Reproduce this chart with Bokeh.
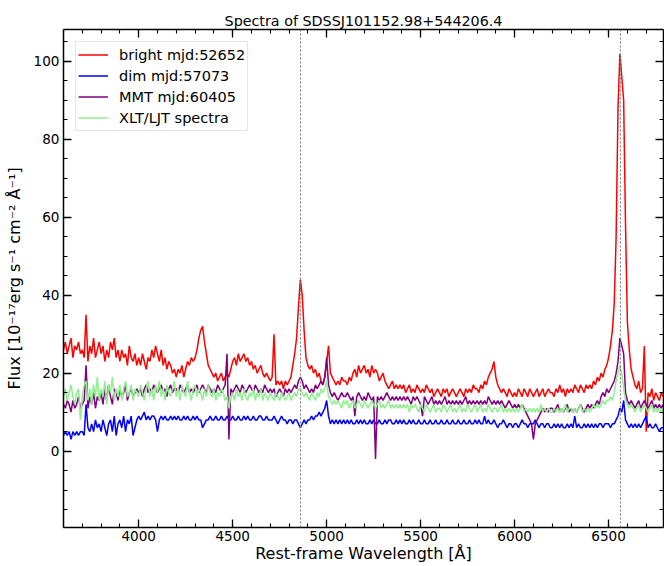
from bokeh.plotting import figure
from bokeh.models import (Range1d, LinearAxis, SingleIntervalTicker, Span, Legend, LegendItem,
                          CustomLabelingPolicy)
from bokeh.embed import file_html
from bokeh.resources import INLINE

# ---------------- data ----------------
title_text = "Spectra of SDSSJ101152.98+544206.4"
x_label = "Rest-frame Wavelength [Å]"
y_label = "Flux [10⁻¹⁷erg s⁻¹ cm⁻² Å⁻¹]"

# wavelength samples (Å), 3600 ... 6790 every 10 Å
wavelength = list(range(3600, 6800, 10))

series_labels = ["bright mjd:52652", "dim mjd:57073", "MMT mjd:60405", "XLT/LJT spectra"]
series_colors = ["#ff0000", "#0000ff", "#800080", "#90ee90"]

bright_flux = [
    26, 28, 25, 27, 29, 24, 27, 26, 28, 25,   # 3600
    26, 24, 35, 23, 27, 25, 29, 24, 26, 28,   # 3700
    25, 27, 23, 26, 24, 28, 26, 29, 24, 26,   # 3800
    23, 26, 24, 25, 22, 27, 24, 23, 25, 22,   # 3900
    24, 22, 25, 23, 21, 24, 23, 26, 24, 27,   # 4000
    25, 23, 26, 22, 24, 21, 23, 22, 20, 21,   # 4100
    19, 21, 20, 22, 19, 21, 23, 22, 24, 23,   # 4200
    24, 26, 29, 31, 32, 28, 25, 22, 21, 20,   # 4300
    19, 20, 18, 19, 20, 18, 19, 20, 19, 21,   # 4400
    23, 24, 22, 25, 23, 24, 25, 23, 24, 22,   # 4500
    23, 21, 22, 20, 21, 22, 20, 19, 20, 19,   # 4600
    18, 19, 30, 17, 18, 17, 18, 16, 18, 17,   # 4700
    18, 19, 22, 25, 29, 37, 44, 40, 31, 24,   # 4800
    22, 21, 22, 20, 21, 19, 20, 18, 17, 19,   # 4900
    23, 27, 20, 19, 18, 17, 18, 17, 19, 18,   # 5000
    18, 17, 19, 18, 20, 21, 19, 22, 20, 21,   # 5100
    22, 20, 21, 19, 22, 20, 21, 20, 18, 19,   # 5200
    20, 18, 17, 16, 17, 18, 16, 17, 16, 17,   # 5300
    16, 17, 15, 16, 17, 15, 16, 15, 17, 16,   # 5400
    15, 16, 15, 17, 16, 15, 16, 14, 15, 16,   # 5500
    15, 14, 16, 15, 16, 14, 15, 16, 15, 14,   # 5600
    15, 16, 15, 14, 16, 15, 16, 15, 17, 16,   # 5700
    16, 15, 17, 16, 18, 17, 19, 20, 21, 23,   # 5800
    19, 17, 16, 15, 16, 15, 14, 16, 15, 14,   # 5900
    15, 14, 16, 15, 14, 16, 15, 14, 16, 15,   # 6000
    14, 15, 16, 14, 15, 16, 14, 15, 16, 15,   # 6100
    15, 14, 16, 15, 17, 15, 16, 14, 16, 15,   # 6200
    16, 15, 17, 16, 15, 17, 16, 15, 17, 16,   # 6300
    17, 16, 18, 17, 19, 18, 20, 19, 21, 22,   # 6400
    24, 27, 31, 38, 55, 88, 102, 96, 90, 58,  # 6500
    33, 26, 21, 19, 17, 16, 18, 15, 16, 27,   # 6600
    5, 15, 14, 16, 13, 15, 14, 13, 15, 14,    # 6700
]

dim_flux = [
    4, 5, 4, 5, 3, 5, 4, 5, 4, 5,
    5, 4, 12, 6, 5, 7, 5, 8, 6, 7,
    5, 8, 6, 4, 7, 8, 5, 9, 4, 7,
    8, 6, 9, 5, 8, 7, 9, 4, 6, 8,
    9, 8, 9, 10, 8, 9, 8, 9, 9, 8,
    5, 8, 9, 8, 9, 8, 8, 9, 8, 9,
    8, 9, 8, 8, 9, 8, 9, 8, 8, 9,
    8, 9, 8, 8, 6, 7, 8, 8, 9, 8,
    8, 9, 8, 8, 9, 8, 8, 9, 8, 8,
    9, 8, 8, 9, 8, 8, 9, 8, 9, 8,
    8, 9, 8, 8, 9, 9, 8, 8, 9, 8,
    8, 8, 9, 8, 7, 8, 9, 8, 8, 7,
    8, 8, 7, 8, 8, 7, 6, 7, 8, 7,
    8, 8, 9, 8, 9, 9, 10, 9, 10, 11,
    13, 9, 7, 8, 7, 8, 7, 8, 7, 8,
    7, 8, 7, 8, 7, 7, 8, 7, 8, 7,
    8, 7, 7, 8, 7, 8, 7, 7, 8, 7,
    7, 8, 7, 8, 8, 7, 7, 8, 7, 8,
    7, 8, 7, 7, 8, 7, 8, 7, 7, 8,
    7, 7, 8, 7, 7, 8, 7, 7, 8, 7,
    7, 8, 7, 7, 8, 7, 7, 8, 7, 7,
    8, 7, 7, 8, 7, 7, 8, 7, 7, 8,
    7, 8, 7, 7, 9, 7, 8, 7, 7, 8,
    7, 6, 7, 7, 8, 7, 6, 7, 7, 6,
    7, 7, 6, 7, 8, 7, 7, 6, 7, 7,
    7, 8, 7, 6, 7, 7, 6, 7, 7, 6,
    6, 7, 6, 7, 6, 7, 6, 6, 7, 6,
    7, 6, 9, 6, 7, 6, 6, 7, 6, 7,
    6, 7, 6, 7, 6, 7, 7, 6, 7, 7,
    7, 6, 7, 7, 8, 9, 11, 10, 13, 8,
    7, 6, 7, 6, 7, 6, 7, 6, 7, 8,
    9, 6, 7, 6, 6, 7, 6, 5, 6, 6,
]

mmt_flux = [
    12, 11, 13, 12, 10, 13, 11, 12, 14, 11,
    12, 13, 22, 11, 14, 12, 15, 11, 14, 13,
    15, 12, 16, 13, 17, 14, 12, 16, 15, 13,
    16, 14, 15, 17, 13, 15, 16, 14, 15, 16,
    15, 16, 14, 16, 17, 15, 16, 15, 17, 16,
    15, 16, 17, 15, 16, 14, 16, 17, 15, 16,
    16, 15, 17, 16, 15, 16, 17, 15, 16, 15,
    16, 17, 15, 16, 17, 16, 15, 17, 16, 15,
    16, 15, 17, 16, 15, 16, 17, 25, 3, 16,
    15, 16, 17, 16, 15, 17, 16, 15, 16, 17,
    16, 15, 17, 16, 15, 16, 15, 17, 16, 15,
    16, 15, 16, 14, 15, 16, 15, 14, 16, 15,
    16, 15, 16, 17, 16, 18, 19, 18, 16, 17,
    16, 15, 16, 15, 17, 16, 17, 18, 17, 19,
    24, 17, 15, 14, 15, 14, 13, 14, 15, 14,
    14, 15, 14, 13, 14, 9, 14, 15, 14, 13,
    14, 13, 15, 14, 13, 14, -2, 14, 13, 14,
    13, 14, 15, 14, 13, 14, 13, 14, 13, 14,
    13, 14, 13, 14, 13, 12, 14, 13, 14, 13,
    12, 9, 14, 13, 12, 13, 14, 12, 13, 12,
    13, 12, 13, 14, 12, 13, 12, 13, 12, 13,
    12, 13, 12, 13, 14, 12, 13, 12, 13, 12,
    13, 12, 13, 12, 13, 12, 14, 13, 12, 13,
    12, 13, 12, 13, 12, 11, 12, 13, 12, 11,
    12, 11, 12, 11, 12, 11, 10, 9, 8, 7,
    3, 7, 8, 9, 10, 11, 10, 11, 10, 11,
    11, 10, 11, 12, 10, 11, 10, 11, 12, 10,
    11, 10, 11, 10, 11, 12, 11, 10, 11, 12,
    11, 12, 11, 12, 13, 12, 14, 15, 14, 16,
    15, 16, 17, 18, 20, 23, 29, 27, 25, 15,
    13, 12, 13, 12, 11, 12, 13, 11, 12, 13,
    12, 11, 12, 13, 11, 12, 11, 12, 11, 12,
]

xlt_flux = [
    14, 16, 13, 15, 17, 14, 12, 15, 16, 8,
    14, 17, 18, 13, 16, 12, 17, 14, 19, 13,
    16, 14, 18, 12, 17, 15, 19, 13, 16, 14,
    17, 13, 16, 18, 14, 15, 17, 13, 16, 15,
    14, 17, 15, 13, 16, 18, 14, 16, 13, 17,
    15, 18, 14, 16, 13, 17, 15, 14, 16, 18,
    14, 16, 13, 17, 15, 14, 18, 15, 13, 16,
    17, 14, 16, 15, 13, 16, 14, 17, 15, 14,
    16, 13, 15, 14, 16, 15, 13, 14, 11, 14,
    15, 13, 16, 14, 15, 13, 16, 14, 13, 15,
    14, 16, 13, 15, 14, 16, 13, 15, 14, 13,
    15, 14, 13, 15, 14, 13, 15, 14, 13, 14,
    15, 13, 14, 15, 14, 16, 16, 15, 14, 15,
    14, 13, 15, 14, 13, 15, 14, 16, 15, 16,
    18, 14, 13, 12, 13, 12, 13, 12, 11, 13,
    12, 13, 11, 12, 13, 11, 12, 13, 12, 11,
    13, 12, 11, 12, 13, 12, 11, 12, 13, 11,
    12, 11, 12, 13, 11, 12, 11, 12, 11, 12,
    11, 12, 11, 12, 10, 12, 11, 12, 11, 10,
    12, 11, 10, 12, 11, 10, 11, 12, 10, 11,
    11, 10, 12, 11, 10, 11, 12, 10, 11, 10,
    11, 12, 10, 11, 10, 12, 11, 10, 11, 12,
    10, 11, 12, 10, 11, 10, 12, 11, 10, 11,
    11, 10, 11, 12, 10, 11, 10, 11, 10, 11,
    10, 11, 10, 11, 12, 10, 11, 10, 11, 10,
    11, 10, 11, 10, 12, 10, 11, 10, 11, 10,
    10, 11, 10, 11, 10, 11, 10, 12, 10, 11,
    11, 10, 11, 10, 11, 12, 10, 11, 10, 11,
    10, 11, 12, 11, 12, 11, 12, 13, 12, 13,
    13, 14, 13, 15, 18, 20, 22, 20, 16, 13,
    12, 11, 12, 11, 10, 11, 12, 10, 11, 12,
    11, 10, 11, 12, 10, 11, 10, 11, 10, 11,
]

line_positions = [4861, 6563]   # H-beta, H-alpha
x_limits = (3600, 6792)
y_limits = (-19.6, 108.2)

for s in (bright_flux, dim_flux, mmt_flux, xlt_flux):
    assert len(s) == len(wavelength)

FONT = "DejaVu Sans"

p = figure(width=664, height=566, output_backend="svg", toolbar_location=None,
           x_range=Range1d(*x_limits), y_range=Range1d(*y_limits),
           min_border_left=63, min_border_right=1, min_border_top=29, min_border_bottom=39,
           x_axis_type=None, y_axis_type=None)
p.outline_line_color = None
p.background_fill_color = "white"
p.border_fill_color = "white"
p.xgrid.visible = False
p.ygrid.visible = False

p.title.text = title_text
p.title.align = "center"
p.title.vertical_align = "middle"
p.title.text_font = FONT
p.title.text_font_size = "14.3px"
p.title.text_font_style = "normal"
p.title.text_color = "black"
p.title.standoff = 0

no_labels = CustomLabelingPolicy(code="""
    const all = [...indices]
    for (const i of all) indices.unset(i)
    return indices
""")


def style_axis(ax, labels=True):
    ax.axis_line_color = "black"
    ax.axis_line_width = 1.5
    ax.major_tick_line_color = "black"
    ax.minor_tick_line_color = "black"
    ax.major_tick_line_width = 1.3
    ax.minor_tick_line_width = 1.1
    ax.major_tick_in = 8
    ax.major_tick_out = 0
    ax.minor_tick_in = 4
    ax.minor_tick_out = 0
    ax.major_label_text_font = FONT
    ax.major_label_text_color = "black"
    ax.axis_label_text_font = FONT
    ax.axis_label_text_font_style = "normal"
    ax.axis_label_text_color = "black"
    ax.major_label_text_font_size = "13.6px"
    ax.axis_label_text_font_size = "16px"
    if not labels:
        ax.major_label_policy = no_labels
        ax.major_label_text_font_size = "0px"
        ax.major_label_standoff = 0


xt = SingleIntervalTicker(interval=500, num_minor_ticks=5)
yt = SingleIntervalTicker(interval=20, num_minor_ticks=4)

xb = LinearAxis(ticker=xt, axis_label=x_label)
style_axis(xb)
xb.major_label_standoff = 3
xb.axis_label_standoff = 0
p.add_layout(xb, "below")

xtop = LinearAxis(ticker=xt)
style_axis(xtop, labels=False)
p.add_layout(xtop, "above")

yl = LinearAxis(ticker=yt, axis_label=y_label)
style_axis(yl)
yl.major_label_standoff = 4
yl.axis_label_standoff = 7
p.add_layout(yl, "left")

yr = LinearAxis(ticker=yt)
style_axis(yr, labels=False)
p.add_layout(yr, "right")

renderers = []
for vals, col in zip([bright_flux, dim_flux, mmt_flux, xlt_flux], series_colors):
    r = p.line(wavelength, vals, line_color=col, line_width=1.5)
    renderers.append(r)

for lp in line_positions:
    p.add_layout(Span(location=lp, dimension="height", line_color="gray",
                      line_dash="2 2", line_width=1.2))

legend = Legend(items=[LegendItem(label=lab, renderers=[r]) for lab, r in zip(series_labels, renderers)],
                location="top_left")
legend.label_text_font = FONT
legend.label_text_font_size = "14.5px"
legend.label_text_color = "black"
legend.glyph_width = 30
legend.glyph_height = 21
legend.label_height = 21
legend.label_standoff = 11
legend.spacing = 0
legend.padding = 2
legend.margin = 12
legend.border_line_color = "#cccccc"
legend.border_line_width = 1
legend.background_fill_alpha = 0.8
p.add_layout(legend, "center")

open("out.html", "w").write(file_html(p, INLINE))
